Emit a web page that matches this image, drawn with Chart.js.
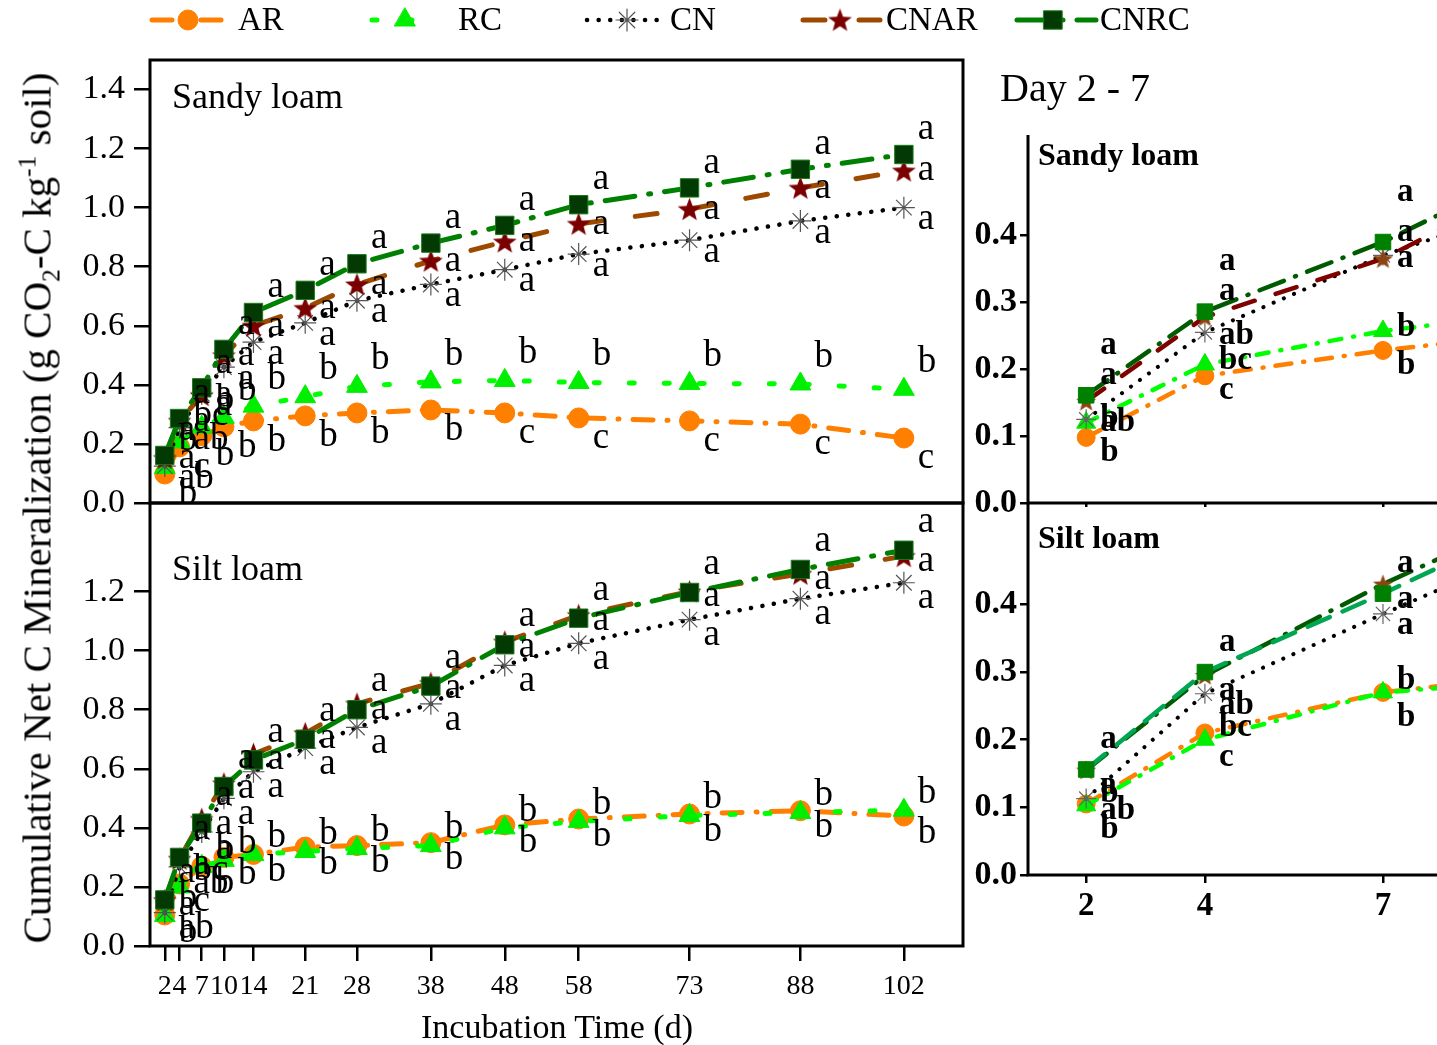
<!DOCTYPE html>
<html>
<head>
<meta charset="utf-8">
<script src="https://cdn.jsdelivr.net/npm/chart.js@4.4.1/dist/chart.umd.min.js"></script>
<style>
body { margin: 0; background: #fff; }
#wrap { position: relative; width: 1437px; height: 1045px; overflow: hidden; background: #fff;
        font-family: "Liberation Serif", "Times New Roman", serif; color: #000; }
canvas { position: absolute; }
.txt { position: absolute; white-space: nowrap; line-height: 1; transform: translateY(-50%); }
sub, sup { font-size: 0.62em; line-height: 0; }
</style>
</head>
<body>
<div id="wrap">
  <canvas id="sandyMain" width="1437" height="543" style="left:0;top:0"></canvas>
  <canvas id="siltMain" width="980" height="582" style="left:0;top:463px"></canvas>
  <canvas id="sandyZoom" width="477" height="448" style="left:960px;top:95px"></canvas>
  <canvas id="siltZoom" width="477" height="482" style="left:960px;top:463px"></canvas>

  <div class="txt" style="left:172px;top:96px;font-size:36px">Sandy loam</div>
  <div class="txt" style="left:172px;top:568px;font-size:36px">Silt loam</div>
  <div class="txt" style="left:1000px;top:88px;font-size:40px">Day 2 - 7</div>
  <div class="txt" style="left:1038px;top:154px;font-size:32px;font-weight:bold">Sandy loam</div>
  <div class="txt" style="left:1038px;top:537px;font-size:32px;font-weight:bold">Silt loam</div>
  <div class="txt" style="left:557px;top:1027px;font-size:34px;transform:translate(-50%,-50%)">Incubation Time (d)</div>
  <div class="txt" style="left:37px;top:508px;font-size:41px;transform:translate(-50%,-50%) rotate(-90deg)">Cumulative Net C Mineralization (g CO<sub>2</sub>-C kg<sup>-1</sup> soil)</div>
</div>

<script>
// ---- data ----
const days = [2, 4, 7, 10, 14, 21, 28, 38, 48, 58, 73, 88, 102];
const mainXTicks = [2, 4, 7, 10, 14, 21, 28, 38, 48, 58, 73, 88, 102];
const zoomXTicks = [2, 4, 7];
const sandyYTicks = [0, 0.2, 0.4, 0.6, 0.8, 1.0, 1.2, 1.4];
const siltYTicks = [0, 0.2, 0.4, 0.6, 0.8, 1.0, 1.2];
const zoomYTicks = [0, 0.1, 0.2, 0.3, 0.4];
const seriesNames = ['AR', 'RC', 'CN', 'CNAR', 'CNRC'];

// Sandy loam
const sandyAR   = [0.098, 0.190, 0.228, 0.258, 0.278, 0.295, 0.305, 0.315, 0.305, 0.288, 0.278, 0.267, 0.220];
const sandyRC   = [0.120, 0.207, 0.257, 0.290, 0.328, 0.360, 0.395, 0.410, 0.415, 0.408, 0.405, 0.403, 0.385];
const sandyCN   = [0.125, 0.255, 0.370, 0.460, 0.545, 0.610, 0.685, 0.740, 0.790, 0.843, 0.890, 0.955, 1.000];
const sandyCNAR = [0.152, 0.278, 0.365, 0.500, 0.600, 0.660, 0.740, 0.820, 0.885, 0.945, 0.995, 1.067, 1.125];
const sandyCNRC = [0.161, 0.286, 0.390, 0.520, 0.645, 0.720, 0.810, 0.880, 0.940, 1.010, 1.067, 1.130, 1.180];

// Silt loam
const siltAR   = [0.105, 0.210, 0.270, 0.300, 0.310, 0.335, 0.340, 0.350, 0.410, 0.430, 0.447, 0.458, 0.440];
const siltRC   = [0.103, 0.200, 0.270, 0.290, 0.310, 0.320, 0.330, 0.340, 0.400, 0.422, 0.442, 0.452, 0.460];
const siltCN   = [0.113, 0.268, 0.386, 0.500, 0.590, 0.670, 0.740, 0.820, 0.950, 1.025, 1.105, 1.176, 1.230];
const siltCNAR = [0.155, 0.295, 0.430, 0.550, 0.650, 0.720, 0.820, 0.890, 1.030, 1.120, 1.200, 1.260, 1.320];
const siltCNRC = [0.156, 0.300, 0.416, 0.540, 0.630, 0.700, 0.800, 0.880, 1.020, 1.110, 1.197, 1.275, 1.340];

// significance letters
const sandyLetters = {
  AR:   ['b', 'c', 'b', 'b', 'b', 'b', 'b', 'b', 'c', 'c', 'c', 'c', 'c'],
  RC:   ['b', 'bc', 'b', 'b', 'b', 'b', 'b', 'b', 'b', 'b', 'b', 'b', 'b'],
  CN:   ['ab', 'ab', 'a', 'a', 'a', 'a', 'a', 'a', 'a', 'a', 'a', 'a', 'a'],
  CNAR: ['a', 'a', 'a', 'a', 'a', 'a', 'a', 'a', 'a', 'a', 'a', 'a', 'a'],
  CNRC: ['a', 'a', 'a', 'a', 'a', 'a', 'a', 'a', 'a', 'a', 'a', 'a', 'a']
};
const siltLetters = {
  AR:   ['b', 'c', 'b', 'b', 'b', 'b', 'b', 'b', 'b', 'b', 'b', 'b', 'b'],
  RC:   ['b', 'bc', 'b', 'b', 'b', 'b', 'b', 'b', 'b', 'b', 'b', 'b', 'b'],
  CN:   ['ab', 'ab', 'a', 'a', 'a', 'a', 'a', 'a', 'a', 'a', 'a', 'a', 'a'],
  CNAR: ['a', 'a', 'a', 'a', 'a', 'a', 'a', 'a', 'a', 'a', 'a', 'a', 'a'],
  CNRC: ['a', 'a', 'a', 'a', 'a', 'a', 'a', 'a', 'a', 'a', 'a', 'a', 'a']
};

// ---- styles ----
const FONT = '"Liberation Serif", "Times New Roman", serif';

function starImage(size, color) {
    const c = document.createElement('canvas');
    c.width = size;
    c.height = size;
    const g = c.getContext('2d');
    const cx = size / 2, cy = size / 2 + size * 0.04, R = size / 2, r = R * 0.42;
    g.fillStyle = color;
    g.beginPath();
    for (let i = 0; i < 10; i++) {
        const a = -Math.PI / 2 + i * Math.PI / 5;
        const rr = i % 2 ? r : R;
        g.lineTo(cx + rr * Math.cos(a), cy + rr * Math.sin(a));
    }
    g.closePath();
    g.fill();
    return c;
}

const mainStyles = {
    AR:   { line: '#ff7f00', width: 5, dash: [20, 14, 1, 14], point: 'circle', radius: 10, fill: '#ff7f00', border: '#ff7f00', bw: 1 },
    RC:   { line: '#00ff00', width: 5, dash: [5, 30], point: 'triangle', radius: 12, fill: '#00ee00', border: '#00ee00', bw: 1 },
    CN:   { line: '#000000', width: 4.5, dash: [0.1, 11.5], point: 'star', radius: 11, fill: 'rgba(0,0,0,0)', border: '#555555', bw: 1.2 },
    CNAR: { line: '#9c4a00', width: 5, dash: [22, 34], point: starImage(25, '#7a0000'), radius: 10, fill: '#7a0000', border: '#7a0000', bw: 1 },
    CNRC: { line: '#008000', width: 5, dash: [30, 14, 2, 14], point: 'rect', radius: 13, fill: '#033a03', border: '#1b7a1b', bw: 1 }
};
const sandyZoomStyles = {
    AR:   { line: '#ff7f00', width: 4.5, dash: [16, 12, 1, 12], point: 'circle', radius: 9, fill: '#ff7f00', border: '#ff7f00', bw: 1 },
    RC:   { line: '#00ff00', width: 4.5, dash: [12, 12, 1, 12], point: 'triangle', radius: 11, fill: '#00ee00', border: '#00ee00', bw: 1 },
    CN:   { line: '#000000', width: 4, dash: [0.1, 11], point: 'star', radius: 10, fill: 'rgba(0,0,0,0)', border: '#666666', bw: 1.2 },
    CNAR: { line: '#800000', width: 4.5, dash: [22, 22], point: starImage(21, '#8b4513'), radius: 9, fill: '#8b4513', border: '#8b4513', bw: 1 },
    CNRC: { line: '#005a00', width: 4.5, dash: [26, 12, 1, 12], point: 'rect', radius: 11, fill: '#008000', border: '#008000', bw: 1 }
};
const siltZoomStyles = {
    AR:   { line: '#ff7f00', width: 4.5, dash: [16, 12, 1, 12], point: 'circle', radius: 9, fill: '#ff7f00', border: '#ff7f00', bw: 1 },
    RC:   { line: '#00ff00', width: 4.5, dash: [12, 12, 1, 12], point: 'triangle', radius: 11, fill: '#00ee00', border: '#00ee00', bw: 1 },
    CN:   { line: '#000000', width: 4, dash: [0.1, 11], point: 'star', radius: 10, fill: 'rgba(0,0,0,0)', border: '#666666', bw: 1.2 },
    CNAR: { line: '#005a00', width: 4.5, dash: [26, 12, 1, 12], point: starImage(21, '#8b4513'), radius: 9, fill: '#8b4513', border: '#8b4513', bw: 1 },
    CNRC: { line: '#00a651', width: 4.5, dash: [24, 14], point: 'rect', radius: 11, fill: '#008000', border: '#008000', bw: 1 }
};

// letter offsets from each point (px)
const sandyMainDy = { AR: 20, RC: -27, CN: 12, CNAR: 0, CNRC: -25 };
const siltMainDy  = { AR: 17, RC: -17, CN: 16, CNAR: 5, CNRC: -28 };
const sandyZoomDy = { AR: 15, RC: -4, CN: 3, CNAR: -26, CNRC: -50 };
const siltZoomDy  = { AR: 25, RC: -12, CN: 12, CNAR: 15, CNRC: -30 };

function makeDataset(name, values, style) {
    return {
        label: name,
        data: days.map((d, i) => ({ x: d, y: values[i] })),
        borderColor: style.line,
        borderWidth: style.width,
        borderDash: style.dash,
        borderCapStyle: 'round',
        tension: 0,
        fill: false,
        pointStyle: style.point,
        pointRadius: style.radius,
        pointBackgroundColor: style.fill,
        pointBorderColor: style.border,
        pointBorderWidth: style.bw
    };
}

// index 0 is drawn on top, so build in reverse legend order
function buildDatasets(values, styles) {
    return seriesNames.slice().reverse().map(n => makeDataset(n, values[n], styles[n]));
}

const sandyValues = { AR: sandyAR, RC: sandyRC, CN: sandyCN, CNAR: sandyCNAR, CNRC: sandyCNRC };
const siltValues = { AR: siltAR, RC: siltRC, CN: siltCN, CNAR: siltCNAR, CNRC: siltCNRC };

// ---- plugins ----
const framePlugin = {
    id: 'frame',
    afterDraw(chart, args, opts) {
        if (!opts || !opts.mode) return;
        const { ctx, chartArea: a } = chart;
        ctx.save();
        ctx.strokeStyle = '#000';
        ctx.lineWidth = 3;
        ctx.setLineDash([]);
        ctx.beginPath();
        if (opts.mode === 'box') {
            ctx.rect(a.left, a.top, a.right - a.left, a.bottom - a.top);
        } else {
            ctx.moveTo(a.left, a.top);
            ctx.lineTo(a.left, a.bottom);
            ctx.lineTo(a.right + 2, a.bottom);
        }
        ctx.stroke();
        ctx.restore();
    }
};

const letterPlugin = {
    id: 'letters',
    afterDatasetsDraw(chart, args, opts) {
        if (!opts || !opts.letters) return;
        const { ctx, scales: { x, y } } = chart;
        ctx.save();
        ctx.font = opts.font;
        ctx.fillStyle = '#000';
        ctx.textAlign = 'left';
        ctx.textBaseline = 'middle';
        chart.data.datasets.forEach(ds => {
            const letters = opts.letters[ds.label];
            const dy = opts.dy[ds.label];
            ds.data.forEach((p, j) => {
                if (p.x > x.max) return;
                ctx.fillText(letters[j], x.getPixelForValue(p.x) + 14, y.getPixelForValue(p.y) + dy);
            });
        });
        ctx.restore();
    }
};

const legendPlugin = {
    id: 'legendRow',
    afterDraw(chart, args, opts) {
        if (!opts || !opts.items) return;
        const ctx = chart.ctx;
        const yMid = 20;
        ctx.save();
        opts.items.forEach(item => {
            const st = mainStyles[item.name];
            ctx.strokeStyle = st.line;
            ctx.lineWidth = st.width;
            ctx.lineCap = 'round';
            ctx.setLineDash(st.dash);
            ctx.beginPath();
            ctx.moveTo(item.x0, yMid);
            ctx.lineTo(item.x1, yMid);
            ctx.stroke();
            ctx.setLineDash([]);
            ctx.fillStyle = st.fill;
            ctx.strokeStyle = st.border;
            ctx.lineWidth = st.bw;
            Chart.helpers.drawPoint(ctx, { pointStyle: st.point, radius: st.radius, rotation: 0, borderWidth: st.bw }, item.marker, yMid);
            ctx.fillStyle = '#000';
            ctx.font = '33px ' + FONT;
            ctx.textBaseline = 'middle';
            ctx.textAlign = 'left';
            ctx.fillText(item.name, item.text, yMid + 1);
        });
        ctx.restore();
    }
};

function tickList(list) {
    return scale => { scale.ticks = list.map(v => ({ value: v })); };
}

function makePanel(id, cfg) {
    return new Chart(document.getElementById(id), {
        type: 'line',
        data: { datasets: cfg.datasets },
        options: {
            responsive: false,
            animation: false,
            events: [],
            layout: { padding: cfg.padding, autoPadding: false },
            plugins: {
                legend: { display: false },
                tooltip: { enabled: false },
                frame: { mode: cfg.frame },
                letters: { letters: cfg.letters, dy: cfg.dy, font: cfg.letterFont },
                legendRow: cfg.legendRow || {}
            },
            scales: {
                x: {
                    type: 'linear',
                    min: cfg.xMin,
                    max: cfg.xMax,
                    display: cfg.xDisplay,
                    afterBuildTicks: tickList(cfg.xTicks),
                    afterFit: s => { s.height = cfg.xHeight; },
                    border: { display: false },
                    grid: { drawOnChartArea: false, drawTicks: true, tickLength: cfg.xTickLen, color: '#000', lineWidth: 2.5 },
                    ticks: {
                        display: cfg.xLabels,
                        autoSkip: false,
                        maxRotation: 0,
                        minRotation: 0,
                        padding: cfg.xPad,
                        color: '#000',
                        font: cfg.xFont,
                        callback: v => String(v)
                    }
                },
                y: {
                    type: 'linear',
                    min: 0,
                    max: cfg.yMax,
                    afterBuildTicks: tickList(cfg.yTicks),
                    afterFit: s => { s.width = cfg.yWidth; },
                    border: { display: false },
                    grid: { drawOnChartArea: false, drawTicks: true, tickLength: cfg.yTickLen, color: '#000', lineWidth: 2.5 },
                    ticks: {
                        padding: cfg.yPad,
                        color: '#000',
                        font: cfg.yFont,
                        callback: v => Number(v).toFixed(1)
                    }
                }
            }
        },
        plugins: [framePlugin, letterPlugin, legendPlugin]
    });
}

const legendItems = [
    { name: 'AR',   x0: 152, x1: 224, marker: 188, text: 238 },
    { name: 'RC',   x0: 372, x1: 436, marker: 405, text: 458 },
    { name: 'CN',   x0: 587, x1: 667, marker: 627, text: 670 },
    { name: 'CNAR', x0: 803, x1: 880, marker: 840, text: 886 },
    { name: 'CNRC', x0: 1017, x1: 1096, marker: 1053, text: 1100 }
];

makePanel('sandyMain', {
    datasets: buildDatasets(sandyValues, mainStyles),
    padding: { left: 0, top: 60, right: 474, bottom: 40 },
    frame: 'box',
    letters: sandyLetters, dy: sandyMainDy, letterFont: '37px ' + FONT,
    legendRow: { items: legendItems },
    xMin: 0, xMax: 110, xDisplay: false, xTicks: mainXTicks, xHeight: 0, xTickLen: 0, xLabels: false, xPad: 0,
    xFont: { family: FONT, size: 28 },
    yMax: 1.5, yTicks: sandyYTicks, yWidth: 150, yTickLen: 16, yPad: 9,
    yFont: { family: FONT, size: 34 }
});

makePanel('siltMain', {
    datasets: buildDatasets(siltValues, mainStyles),
    padding: { left: 0, top: 40, right: 17, bottom: 0 },
    frame: 'box',
    letters: siltLetters, dy: siltMainDy, letterFont: '37px ' + FONT,
    xMin: 0, xMax: 110, xDisplay: true, xTicks: mainXTicks, xHeight: 99, xTickLen: 15, xLabels: true, xPad: 9,
    xFont: { family: FONT, size: 28 },
    yMax: 1.5, yTicks: siltYTicks, yWidth: 150, yTickLen: 16, yPad: 9,
    yFont: { family: FONT, size: 34 }
});

makePanel('sandyZoom', {
    datasets: buildDatasets(sandyValues, sandyZoomStyles),
    padding: { left: 0, top: 40, right: 0, bottom: 0 },
    frame: 'axes',
    letters: sandyLetters, dy: sandyZoomDy, letterFont: 'bold 33px ' + FONT,
    xMin: 1.02, xMax: 7.91, xDisplay: true, xTicks: zoomXTicks, xHeight: 40, xTickLen: 4, xLabels: false, xPad: 0,
    xFont: { family: FONT, size: 33, weight: 'bold' },
    yMax: 0.55, yTicks: zoomYTicks, yWidth: 68, yTickLen: 8, yPad: 3,
    yFont: { family: FONT, size: 34, weight: 'bold' }
});

makePanel('siltZoom', {
    datasets: buildDatasets(siltValues, siltZoomStyles),
    padding: { left: 0, top: 40, right: 0, bottom: 0 },
    frame: 'axes',
    letters: siltLetters, dy: siltZoomDy, letterFont: 'bold 33px ' + FONT,
    xMin: 1.02, xMax: 7.91, xDisplay: true, xTicks: zoomXTicks, xHeight: 70, xTickLen: 8, xLabels: true, xPad: 4,
    xFont: { family: FONT, size: 33, weight: 'bold' },
    yMax: 0.55, yTicks: zoomYTicks, yWidth: 68, yTickLen: 8, yPad: 3,
    yFont: { family: FONT, size: 34, weight: 'bold' }
});
</script>
</body>
</html>
